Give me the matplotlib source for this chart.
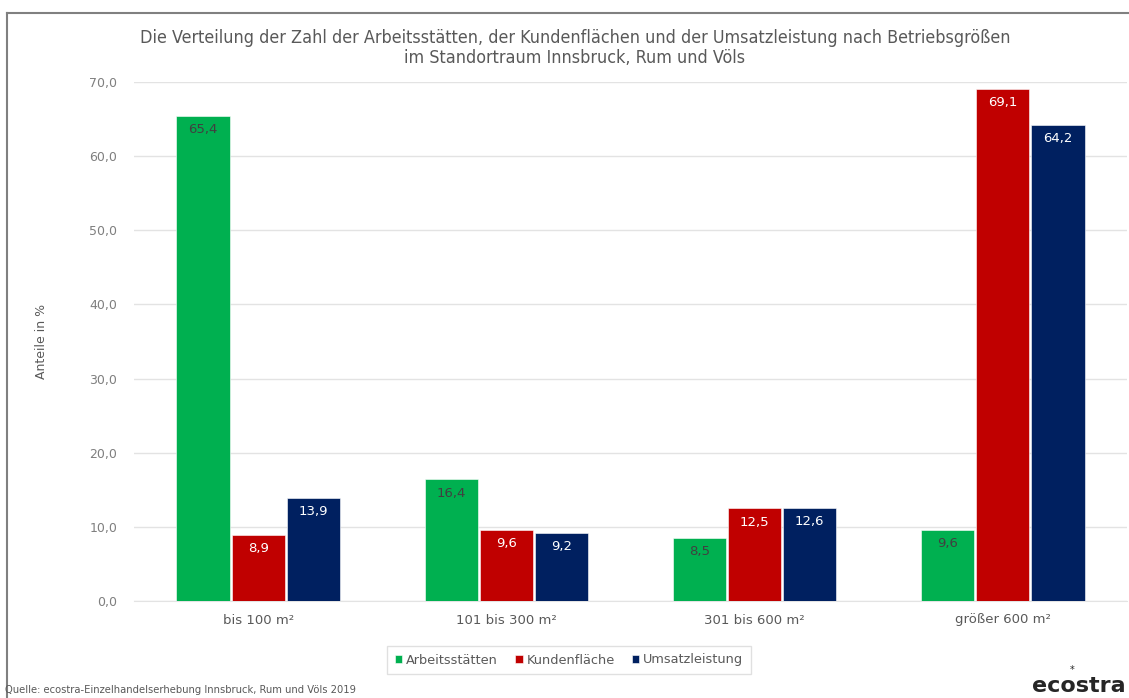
import numpy as np
import matplotlib
matplotlib.use('Agg')
import matplotlib.pyplot as plt
from matplotlib.lines import Line2D

# Daten
kategorien = ['bis 100 m²', '101 bis 300 m²', '301 bis 600 m²', 'größer 600 m²']
arbeitsstaetten = [65.4, 16.4, 8.5, 9.6]
kundenflaeche = [8.9, 9.6, 12.5, 69.1]
umsatzleistung = [13.9, 9.2, 12.6, 64.2]
serien = ['Arbeitsstätten', 'Kundenfläche', 'Umsatzleistung']
farben = ['#00B050', '#C00000', '#002060']
labelfarben = ['#404040', 'white', 'white']

plt.rcParams['font.family'] = ['DejaVu Sans']

W, H = 1129, 698
fig = plt.figure(figsize=(W / 100, H / 100), dpi=100)
ax = fig.add_axes([134 / W, 1 - 601 / H, 993 / W, (601 - 82) / H])

x = np.arange(len(kategorien))
breite = 0.214
schritt = 0.222
werte = [arbeitsstaetten, kundenflaeche, umsatzleistung]
for i, (name, vals) in enumerate(zip(serien, werte)):
    pos = x + (i - 1) * schritt
    bars = ax.bar(pos, vals, breite, color=farben[i], label=name, zorder=3,
                  edgecolor='white', linewidth=0.4)
    for b, v in zip(bars, vals):
        ax.annotate(f'{v:.1f}'.replace('.', ','), (b.get_x() + b.get_width() / 2, v),
                    xytext=(0, -10), textcoords='offset points', ha='center', va='center',
                    fontsize=9.5, color=labelfarben[i], zorder=4)

ax.set_xlim(-0.5, 3.5)
ax.set_ylim(0, 70)
ax.set_yticks(np.arange(0, 71, 10))
ax.set_yticklabels([f'{t:.1f}'.replace('.', ',') for t in np.arange(0, 71, 10)])
ax.set_xticks(x)
ax.set_xticklabels(kategorien)
ax.tick_params(axis='both', length=0, colors='#7F7F7F', labelsize=9)
ax.tick_params(axis='y', pad=12)
ax.tick_params(axis='x', pad=9, labelcolor='#595959', labelsize=9.5)
ax.grid(axis='y', color='#E3E3E3', linewidth=1, zorder=0)
for s in ['top', 'right', 'left']:
    ax.spines[s].set_visible(False)
ax.spines['bottom'].set_color('#E3E3E3')
ax.set_ylabel('Anteile in %', color='#595959', fontsize=9, labelpad=30)

fig.text(575 / W, 1 - 48 / H,
         'Die Verteilung der Zahl der Arbeitsstätten, der Kundenflächen und der Umsatzleistung nach Betriebsgrößen\n'
         'im Standortraum Innsbruck, Rum und Völs',
         ha='center', va='center', fontsize=12.9, color='#595959', stretch='condensed',
         linespacing=1.15)

leg = fig.legend(loc='center', bbox_to_anchor=(569 / W, 1 - 660 / H), ncol=3,
                 handlelength=0.6, handleheight=0.6, handletextpad=0.3, columnspacing=1.3,
                 fontsize=9.3, frameon=True, fancybox=False, edgecolor='#D9D9D9', borderpad=0.6)
for t in leg.get_texts():
    t.set_color('#595959')

fig.text(5 / W, 1 - 690 / H, 'Quelle: ecostra-Einzelhandelserhebung Innsbruck, Rum und Völs 2019',
         ha='left', va='center', fontsize=7.2, color='#595959')
fig.text(1126 / W, 1 - 692 / H, 'ecostra', ha='right', va='baseline', fontsize=16,
         color='#262626', fontweight='semibold')
fig.text(1072 / W, 1 - 670 / H, '*', ha='center', va='center', fontsize=7, color='#262626')

# Rahmen
fig.add_artist(Line2D([7 / W, 1], [1 - 13 / H, 1 - 13 / H], transform=fig.transFigure,
                      color='#808080', linewidth=1.5))
fig.add_artist(Line2D([7 / W, 7 / W], [0, 1 - 13 / H], transform=fig.transFigure,
                      color='#808080', linewidth=1.5))

fig.savefig('out.png', dpi=100)
